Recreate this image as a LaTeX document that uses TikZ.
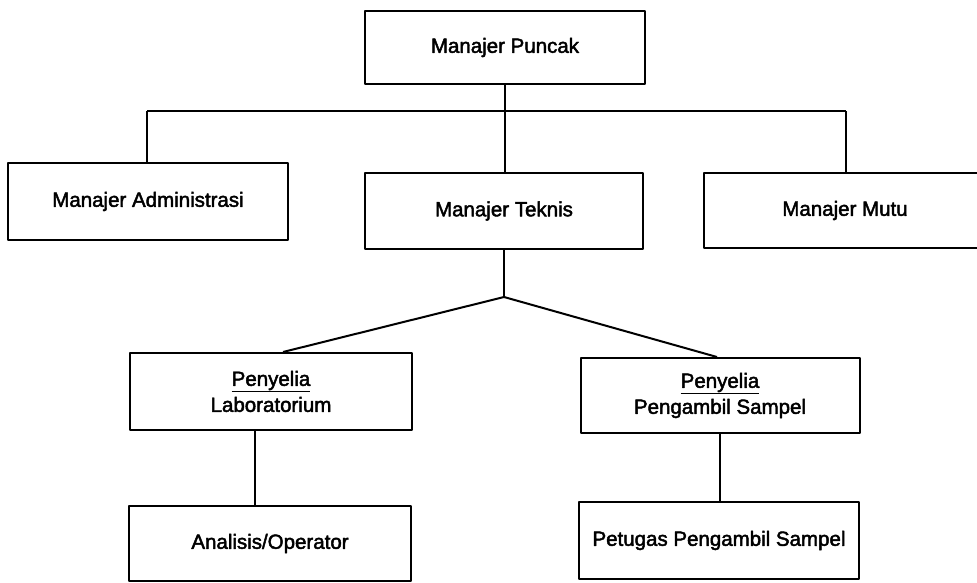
\documentclass[tikz,border=0pt]{standalone}
\usepackage{fontspec}
\setmainfont{Liberation Sans}
\newfontfamily\scanfont[FakeBold=2.2]{Liberation Sans}
\newcommand{\headline}[1]{\setbox0\hbox{#1}\rlap{\raisebox{-6.5pt}{\rule{\wd0}{1.6pt}}}\box0}

\begin{document}
\begin{tikzpicture}[
  x={(1pt,0pt)},
  y={(0pt,-1pt)},
  line join=round,
  unitbox/.style={draw=black,line width=2pt,inner sep=0pt,align=center,
    minimum width=280pt,minimum height=76pt,
    font=\scanfont\fontsize{20.5}{26}\selectfont},
  link/.style={draw=black,line width=2pt}
]
  \useasboundingbox (0,0) rectangle (977,582);

  % Top and second level units.
  \node[unitbox,minimum height=73pt] (puncak) at (505,47.5) {Manajer Puncak};
  \node[unitbox,minimum height=77pt] (admin) at (148,201.5) {Manajer Administrasi};
  \node[unitbox,minimum width=278pt] (teknis) at (504,211) {Manajer Teknis};
  \node[unitbox,minimum width=282pt,minimum height=75pt] (mutu) at (845,210.5) {Manajer Mutu};

  % Supervisors and staff under the technical manager.
  \node[unitbox,minimum width=282pt,minimum height=77pt] (lab) at (271,391.5) {\headline{Penyelia}\\Laboratorium};
  \node[unitbox,minimum width=279pt,minimum height=75pt] (pengambil) at (720,395.5) {\headline{Penyelia}\\Pengambil Sampel};
  \node[unitbox,minimum width=282pt,minimum height=75pt] (analisis) at (270,543.5) {Analisis/Operator};
  \node[unitbox,minimum height=77pt] (petugas) at (719,540.5) {Petugas Pengambil Sampel};

  % Bus below the top manager.
  \coordinate (busleft) at (147,111);
  \coordinate (busright) at (846,111);
  \draw[link] (busleft) -- (busright);
  \draw[link] (puncak.south) -- (puncak.south |- teknis.north);
  \draw[link] (busleft) -- (busleft |- admin.north);
  \draw[link] (busright) -- (busright |- mutu.north);

  % Fork below the technical manager.
  \coordinate (fork) at (504,297);
  \draw[link] (teknis.south) -- (fork);
  \draw[link] (fork) -- ([xshift=12pt]lab.north);
  \draw[link] (fork) -- ([xshift=-3pt]pengambil.north);
  \draw[link] ([xshift=-16pt]lab.south) -- ([xshift=-15pt]analisis.north);
  \draw[link] (pengambil.south) -- (pengambil.south |- petugas.north);
\end{tikzpicture}
\end{document}
